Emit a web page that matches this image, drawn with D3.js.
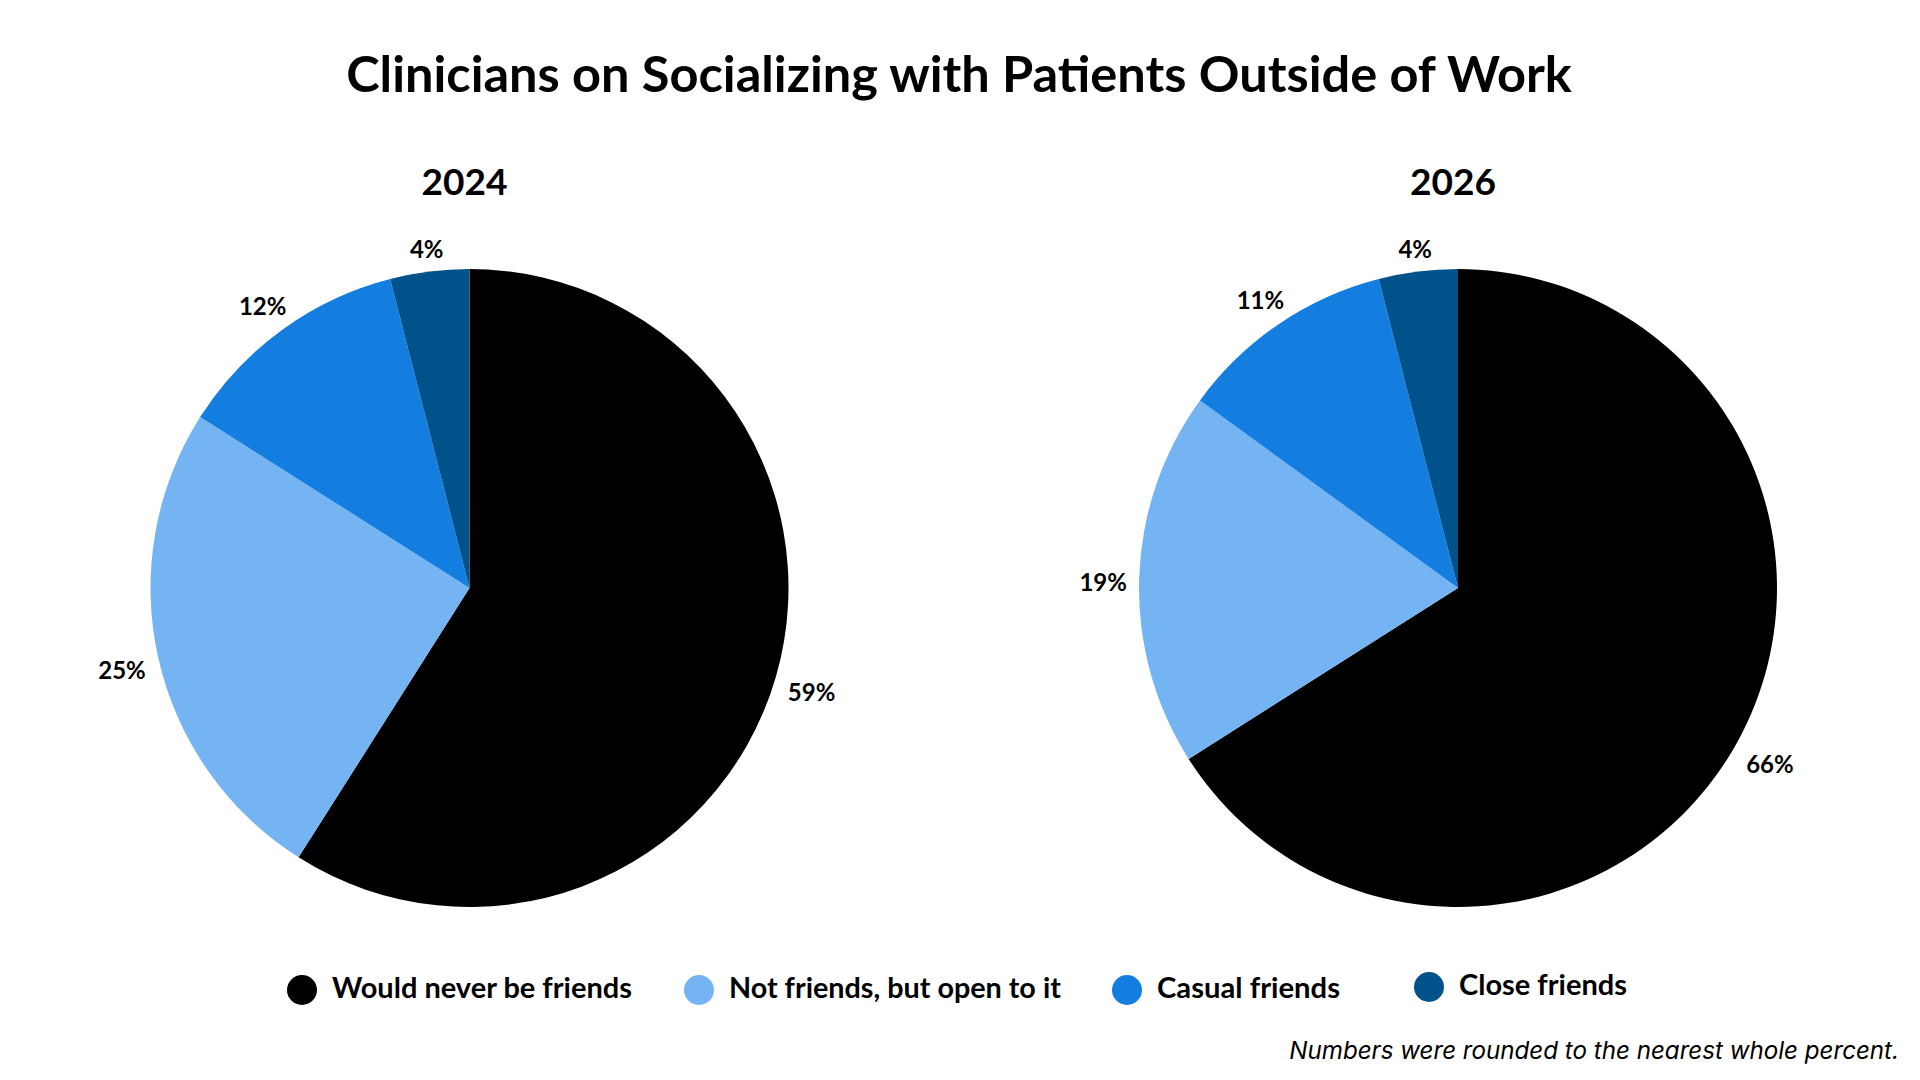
<!DOCTYPE html>
<html>
<head>
<meta charset="utf-8">
<script src="https://cdn.jsdelivr.net/npm/d3@7"></script>
<style>
  html, body { margin: 0; padding: 0; background: #ffffff; }
  svg { display: block; }
</style>
</head>
<body>
<svg id="chart" width="1920" height="1080"></svg>
<script>
// ---- data ----
const titleText = "Clinicians on Socializing with Patients Outside of Work";
const footnoteText = "Numbers were rounded to the nearest whole percent.";
const categories = ["Would never be friends", "Not friends, but open to it", "Casual friends", "Close friends"];
const years = ["2024", "2026"];
const values2024 = [59, 25, 12, 4];
const values2026 = [66, 19, 11, 4];
const seriesColors = ["#000000", "#74B4F2", "#137DE0", "#00528A"];

// ---- layout ----
const W = 1920, H = 1080;
const FONT = "Lato, 'Noto Sans', sans-serif";
const radius = 319;
const pieCenters = [[469.5, 588], [1458, 588]];
const legendX = [302, 699, 1127, 1429];
const legendY = [990, 990, 990, 987];

const svg = d3.select("#chart");

function fitText(sel, target) {
  const w = sel.node().getComputedTextLength();
  const fs = parseFloat(sel.attr("font-size"));
  sel.attr("font-size", (fs * target / w).toFixed(2));
}

// title
const title = svg.append("text")
  .attr("x", 959).attr("y", 92)
  .attr("text-anchor", "middle")
  .attr("font-family", FONT).attr("font-weight", 700)
  .attr("font-size", 42).attr("fill", "#000")
  .text(titleText);
fitText(title, 1226);

const pie = d3.pie().sort(null).value(d => d).startAngle(0).endAngle(2 * Math.PI);
const arc = d3.arc().innerRadius(0).outerRadius(radius);
const color = d3.scaleOrdinal().domain(categories).range(seriesColors);

const allValues = [values2024, values2026];

years.forEach((yr, i) => {
  const [cx, cy] = pieCenters[i];
  const g = svg.append("g").attr("transform", `translate(${cx},${cy})`);

  const yl = svg.append("text")
    .attr("x", cx - 5).attr("y", 195)
    .attr("text-anchor", "middle")
    .attr("font-family", FONT).attr("font-weight", 700)
    .attr("font-size", 32).attr("fill", "#000")
    .text(yr);
  fitText(yl, 86);

  const arcs = pie(allValues[i]);
  g.selectAll("path.slice").data(arcs).enter().append("path")
    .attr("class", "slice")
    .attr("d", arc)
    .attr("fill", (d, j) => color(categories[j]));

  const fs = 24;
  const gap = 12;
  g.selectAll("text.lbl").data(arcs).enter().append("text")
    .attr("class", "lbl")
    .attr("text-anchor", "middle")
    .attr("font-family", FONT).attr("font-weight", 700)
    .attr("font-size", fs).attr("fill", "#000")
    .text(d => d.value + "%")
    .each(function (d) {
      const t = d3.select(this);
      const hw = this.getComputedTextLength() / 2;
      const hh = fs * 0.36;
      const a = (d.startAngle + d.endAngle) / 2;
      const s = Math.sin(a), c = -Math.cos(a);
      const dist = radius + gap + Math.abs(s) * hw + Math.abs(c) * hh;
      t.attr("x", s * dist).attr("y", c * dist + hh + 5 * Math.abs(s));
    });
});

// legend
const leg = svg.append("g");
categories.forEach((cat, j) => {
  leg.append("circle")
    .attr("cx", legendX[j]).attr("cy", legendY[j]).attr("r", 15)
    .attr("fill", color(cat));
});
const legTargets = [300, 332, 183, 168];
categories.forEach((cat, j) => {
  const t = leg.append("text")
    .attr("x", legendX[j] + 30).attr("y", legendY[j] + 8)
    .attr("font-family", FONT).attr("font-weight", 700)
    .attr("font-size", 26).attr("fill", "#000")
    .text(cat);
  fitText(t, legTargets[j]);
});

// footnote
const fn = svg.append("text")
  .attr("x", 1899).attr("y", 1059)
  .attr("text-anchor", "end")
  .attr("font-family", "Inter, Roboto, sans-serif").attr("font-style", "italic")
  .attr("font-size", 24).attr("fill", "#000")
  .text(footnoteText);
fitText(fn, 610);
</script>
</body>
</html>
